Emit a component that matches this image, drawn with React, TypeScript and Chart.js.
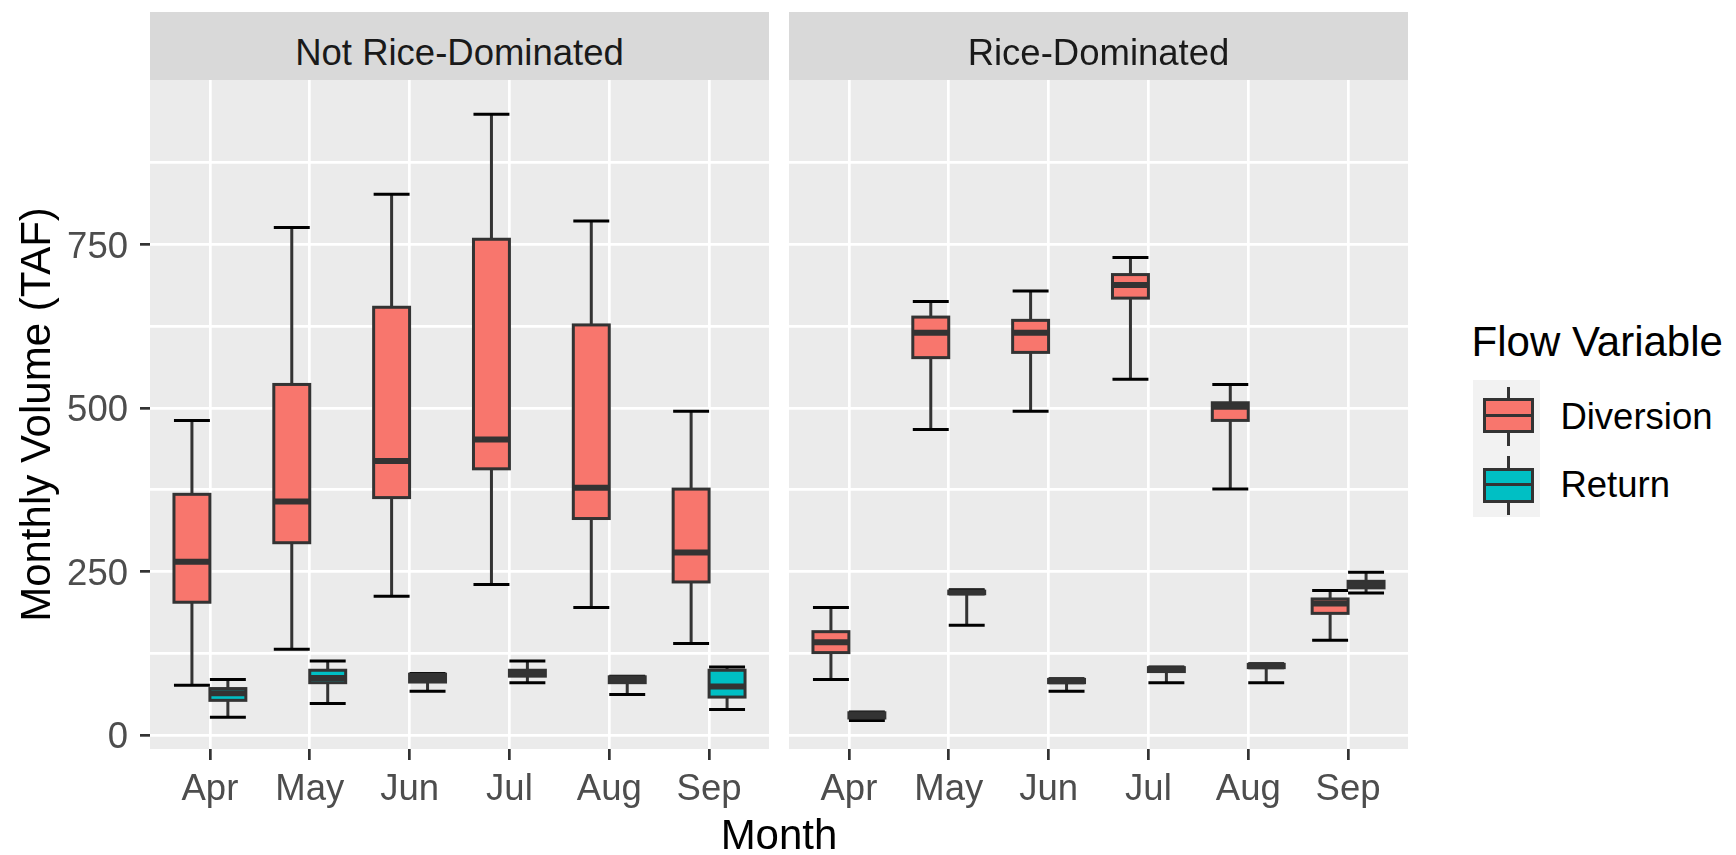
import React, { useEffect, useRef } from 'react';
import { Chart, registerables } from 'chart.js';

Chart.register(...registerables);

const FONT = "'Liberation Sans', Arial, Helvetica, sans-serif";

const months = ['Apr', 'May', 'Jun', 'Jul', 'Aug', 'Sep'];
const facetNames = ['Not Rice-Dominated', 'Rice-Dominated'];
const seriesNames = ['Diversion', 'Return'];
const seriesColors = ['#F8766D', '#00BFC4'];

// five-number summaries per month: [min, Q1, median, Q3, max]
const notRiceDiversion = [
  [76, 203, 265, 368, 481],
  [131, 294, 357, 536, 776],
  [212, 363, 419, 654, 827],
  [230, 407, 452, 758, 949],
  [195, 331, 378, 627, 786],
  [140, 234, 279, 376, 495],
];
const notRiceReturn = [
  [27, 53, 64, 71, 85],
  [48, 80, 87, 99, 113],
  [67, 81, 87, 93, 94],
  [80, 90, 94, 99, 113],
  [62, 80, 85, 89, 90],
  [39, 58, 74, 99, 104],
];
const riceDiversion = [
  [85, 126, 142, 158, 195],
  [467, 577, 615, 639, 663],
  [495, 585, 615, 634, 679],
  [544, 668, 688, 704, 730],
  [376, 481, 502, 508, 536],
  [145, 186, 201, 208, 221],
];
const riceReturn = [
  [22, 26, 30, 34, 35],
  [168, 216, 218, 220, 222],
  [67, 80, 82, 85, 86],
  [80, 97, 100, 103, 104],
  [80, 103, 105, 108, 109],
  [217, 225, 230, 235, 249],
];

const yMajorTicks = [0, 250, 500, 750];
const yMinorTicks = [125, 375, 625, 875];
const yAxisMin = -21.4;
const yAxisMax = 1001.5;

const GRID_LINE = 2.7;
const LINE = 3;
const BOX_LINE = '#333333';

const ggPanelPlugin = {
  id: 'ggPanel',
  beforeDraw(chart: any) {
    const { ctx, chartArea: a } = chart;
    ctx.save();
    ctx.fillStyle = '#EBEBEB';
    ctx.fillRect(a.left, a.top, a.right - a.left, a.bottom - a.top);
    ctx.restore();
  },
  beforeDatasetsDraw(chart: any) {
    const { ctx } = chart;
    const ys = chart.scales.y;
    chart.data.datasets.forEach((ds: any, di: number) => {
      const meta = chart.getDatasetMeta(di);
      meta.data.forEach((el: any, i: number) => {
        const s = ds.stats[i];
        const { x, width } = el.getProps(['x', 'width'], true);
        const pMin = ys.getPixelForValue(s[0]);
        const pMax = ys.getPixelForValue(s[4]);
        ctx.save();
        ctx.lineCap = 'butt';
        ctx.lineWidth = LINE;
        ctx.strokeStyle = BOX_LINE;
        ctx.beginPath();
        ctx.moveTo(x, pMin);
        ctx.lineTo(x, pMax);
        ctx.stroke();
        ctx.strokeStyle = '#000000';
        ctx.beginPath();
        ctx.moveTo(x - width / 2, pMin);
        ctx.lineTo(x + width / 2, pMin);
        ctx.moveTo(x - width / 2, pMax);
        ctx.lineTo(x + width / 2, pMax);
        ctx.stroke();
        ctx.restore();
      });
    });
  },
  afterDatasetsDraw(chart: any) {
    const { ctx } = chart;
    const ys = chart.scales.y;
    chart.data.datasets.forEach((ds: any, di: number) => {
      const meta = chart.getDatasetMeta(di);
      meta.data.forEach((el: any, i: number) => {
        const s = ds.stats[i];
        const { x, width } = el.getProps(['x', 'width'], true);
        const pQ1 = ys.getPixelForValue(s[1]);
        const pMed = ys.getPixelForValue(s[2]);
        const pQ3 = ys.getPixelForValue(s[3]);
        ctx.save();
        ctx.strokeStyle = BOX_LINE;
        ctx.lineWidth = LINE;
        ctx.strokeRect(x - width / 2, pQ3, width, pQ1 - pQ3);
        ctx.lineWidth = LINE * 2;
        ctx.lineCap = 'butt';
        ctx.beginPath();
        ctx.moveTo(x - width / 2, pMed);
        ctx.lineTo(x + width / 2, pMed);
        ctx.stroke();
        ctx.restore();
      });
    });
  },
};

function buildConfig(diversion: number[][], ret: number[][], showY: boolean): any {
  const datasets = [diversion, ret].map((stats, k) => ({
    label: seriesNames[k],
    data: stats.map((s, i) => ({ x: i + 1, y: [s[1], s[3]] })),
    stats,
    backgroundColor: seriesColors[k],
    borderWidth: 0,
    categoryPercentage: 0.72,
    barPercentage: 1,
  }));
  return {
    type: 'bar',
    data: { datasets },
    plugins: [ggPanelPlugin],
    options: {
      responsive: false,
      animation: false,
      events: [],
      devicePixelRatio: 1,
      layout: { padding: { top: 80, right: showY ? 11 : 12, bottom: 0, left: showY ? 0 : 9 } },
      plugins: { legend: { display: false }, tooltip: { enabled: false }, title: { display: false } },
      scales: {
        x: {
          type: 'linear',
          min: 0.4,
          max: 6.6,
          offset: false,
          afterBuildTicks: (axis: any) => {
            axis.ticks = months.map((_, i) => ({ value: i + 1 }));
          },
          afterFit: (axis: any) => {
            axis.height = 106;
          },
          grid: {
            color: '#FFFFFF',
            lineWidth: GRID_LINE,
            offset: false,
            drawTicks: true,
            tickLength: 11,
            tickColor: BOX_LINE,
            tickWidth: GRID_LINE,
          },
          border: { display: false },
          ticks: {
            autoSkip: false,
            maxRotation: 0,
            minRotation: 0,
            padding: 8,
            color: '#4D4D4D',
            font: { family: FONT, size: 36.5 },
            callback: (v: number) => months[Math.round(v) - 1] ?? '',
          },
        },
        y: {
          type: 'linear',
          min: yAxisMin,
          max: yAxisMax,
          afterBuildTicks: (axis: any) => {
            axis.ticks = [...yMajorTicks, ...yMinorTicks].sort((a, b) => a - b).map((v) => ({ value: v }));
          },
          afterFit: (axis: any) => {
            axis.width = showY ? 150 : 0;
          },
          grid: {
            color: '#FFFFFF',
            lineWidth: GRID_LINE,
            drawTicks: showY,
            tickLength: 10,
            tickWidth: GRID_LINE,
            tickColor: (c: any) => (c.tick && yMajorTicks.includes(c.tick.value) ? BOX_LINE : 'rgba(0,0,0,0)'),
          },
          border: { display: false },
          ticks: {
            display: showY,
            autoSkip: false,
            padding: 12,
            labelOffset: 3.4,
            color: '#4D4D4D',
            font: { family: FONT, size: 36.5 },
            callback: (v: number) => (yMajorTicks.includes(v) ? String(v) : ''),
          },
          title: {
            display: showY,
            text: 'Monthly Volume (TAF)',
            color: '#000000',
            font: { family: FONT, size: 42 },
            padding: { top: 13, bottom: 0 },
          },
        },
      },
    },
  };
}

function PanelChart({ left, width, config }: { left: number; width: number; config: any }) {
  const ref = useRef<HTMLCanvasElement>(null);
  useEffect(() => {
    const chart = new Chart(ref.current as HTMLCanvasElement, config);
    return () => chart.destroy();
  }, []);
  return (
    <canvas
      ref={ref}
      width={width}
      height={855}
      style={{ position: 'absolute', left, top: 0, width, height: 855 }}
    />
  );
}

function Strip({ left, text }: { left: number; text: string }) {
  return (
    <div style={{ position: 'absolute', left, top: 12, width: 619, height: 68, background: '#D9D9D9' }}>
      <div
        style={{
          position: 'absolute',
          left: 0,
          right: 0,
          top: 23,
          fontSize: 36.5,
          lineHeight: '36.5px',
          textAlign: 'center',
          color: '#1A1A1A',
          whiteSpace: 'nowrap',
        }}
      >
        {text}
      </div>
    </div>
  );
}

function LegendKey({ top, color }: { top: number; color: string }) {
  return (
    <>
      <div style={{ position: 'absolute', left: 1507.2, top: top + 6.7, width: 2.7, height: 59, background: BOX_LINE }} />
      <div
        style={{
          position: 'absolute',
          left: 1482.7,
          top: top + 18.3,
          width: 51.6,
          height: 35,
          boxSizing: 'border-box',
          border: `3px solid ${BOX_LINE}`,
          background: color,
        }}
      />
      <div style={{ position: 'absolute', left: 1482.7, top: top + 33.5, width: 51.6, height: 3, background: BOX_LINE }} />
    </>
  );
}

export default function App() {
  const leftConfig = buildConfig(notRiceDiversion, notRiceReturn, true);
  const rightConfig = buildConfig(riceDiversion, riceReturn, false);
  return (
    <div
      style={{
        position: 'absolute',
        left: 0,
        top: 0,
        width: 1736,
        height: 855,
        background: '#FFFFFF',
        overflow: 'hidden',
        fontFamily: FONT,
      }}
    >
      <PanelChart left={0} width={780} config={leftConfig} />
      <PanelChart left={780} width={640} config={rightConfig} />
      <Strip left={150} text={facetNames[0]} />
      <Strip left={789} text={facetNames[1]} />
      <div
        style={{
          position: 'absolute',
          left: 479,
          width: 600,
          top: 814.4,
          fontSize: 42,
          lineHeight: '42px',
          textAlign: 'center',
          color: '#000000',
          whiteSpace: 'nowrap',
        }}
      >
        Month
      </div>
      <div
        style={{
          position: 'absolute',
          left: 1471.6,
          top: 321.4,
          fontSize: 42,
          lineHeight: '42px',
          color: '#000000',
          whiteSpace: 'nowrap',
        }}
      >
        Flow Variable
      </div>
      <div style={{ position: 'absolute', left: 1473, top: 380, width: 67, height: 137, background: '#F2F2F2' }} />
      <LegendKey top={380} color={seriesColors[0]} />
      <LegendKey top={449.5} color={seriesColors[1]} />
      <div
        style={{
          position: 'absolute',
          left: 1560.4,
          top: 399.1,
          fontSize: 36.5,
          lineHeight: '36.5px',
          color: '#000000',
          whiteSpace: 'nowrap',
        }}
      >
        {seriesNames[0]}
      </div>
      <div
        style={{
          position: 'absolute',
          left: 1560.4,
          top: 467.1,
          fontSize: 36.5,
          lineHeight: '36.5px',
          color: '#000000',
          whiteSpace: 'nowrap',
        }}
      >
        {seriesNames[1]}
      </div>
    </div>
  );
}
